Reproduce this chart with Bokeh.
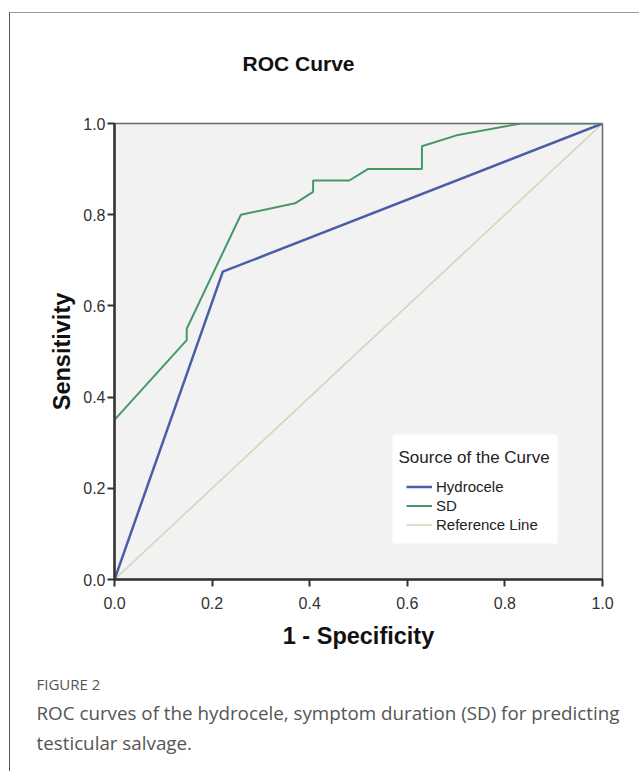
from bokeh.plotting import figure
from bokeh.models import (Range1d, FixedTicker, PrintfTickFormatter, Legend, LegendItem,
                          Label, BoxAnnotation, Title)
from bokeh.embed import file_html
from bokeh.resources import INLINE

# ---- data ----
hyd_fpr = [0.0, 0.222, 1.0]
hyd_tpr = [0.0, 0.675, 1.0]
sd_fpr = [0.0, 0.148, 0.148, 0.259, 0.370, 0.407, 0.407, 0.481, 0.519, 0.630, 0.630, 0.704, 0.833, 1.0]
sd_tpr = [0.35, 0.525, 0.55, 0.80, 0.825, 0.85, 0.875, 0.875, 0.90, 0.90, 0.95, 0.975, 1.0, 1.0]
ref_x = [0.0, 1.0]
ref_y = [0.0, 1.0]
ticks = [0.0, 0.2, 0.4, 0.6, 0.8, 1.0]
series_names = ["Hydrocele", "SD", "Reference Line"]
title_text = "ROC Curve"
x_label = "1 - Specificity"
y_label = "Sensitivity"
legend_title = "Source of the Curve"
fig_label = "FIGURE 2"
caption_lines = ["ROC curves of the hydrocele, symptom duration (SD) for predicting",
                 "testicular salvage."]

# ---- layout (page pixels) ----
OX, OY = 10, 13                      # canvas origin on the page
W, H = 630, 759
FL, FR, FT, FB = 114, 602, 123, 579   # frame edges on the page


def dx(px):
    return (px - FL) / (FR - FL)


def dy(py):
    return (FB - py) / (FB - FT)


def gap_title(gap):
    # a tiny white-on-white title panel that only reserves vertical space
    return Title(text=".", text_font_size="1px", text_color="white", standoff=gap)


p = figure(width=W, height=H, x_range=Range1d(0, 1), y_range=Range1d(0, 1),
           output_backend="svg", toolbar_location=None,
           min_border_left=FL - OX, min_border_right=W - (FR - OX),
           min_border_top=FT - OY, min_border_bottom=H - (FB - OY))
p.styles = {"border-left": "1.5px solid #555555", "border-top": "1.5px solid #9a9a9a",
            "margin-left": "9px", "margin-top": "12px"}
p.background_fill_color = "#f2f2f2"
p.border_fill_color = "white"
p.outline_line_color = "#6a6a6a"
p.outline_line_width = 1.5
p.xgrid.visible = False
p.ygrid.visible = False

xa = p.below[0]
ya = p.left[0]

for ax in (xa, ya):
    ax.ticker = FixedTicker(ticks=ticks)
    ax.formatter = PrintfTickFormatter(format="%.1f")
    ax.axis_line_width = 2.5
    ax.axis_line_color = "#333333"
    ax.major_tick_line_width = 2
    ax.major_tick_line_color = "#333333"
    ax.major_tick_out = 7
    ax.major_tick_in = 0
    ax.minor_tick_line_color = None
    ax.major_label_text_font = "Liberation Sans"
    ax.major_label_text_font_size = "16px"
    ax.major_label_text_color = "#333333"
    ax.axis_label_text_font = "Liberation Sans"
    ax.axis_label_text_font_size = "23.5px"
    ax.axis_label_text_font_style = "bold"
    ax.axis_label_text_color = "#111111"

xa.axis_label = x_label
ya.axis_label = y_label
xa.major_label_standoff = 10
ya.major_label_standoff = 2
xa.axis_label_standoff = 11
ya.axis_label_standoff = 5

# chart title (centred over the whole chart image), above a gap
p.title.text = ""
p.add_layout(gap_title(46), "above")
p.add_layout(Title(text=title_text, align="left", offset=297 - 55 - FL, standoff=0,
                   text_font="Liberation Sans", text_font_size="21px",
                   text_font_style="bold", text_color="#111111"), "above")

r_ref = p.line(ref_x, ref_y, line_color="#d9d2b4", line_width=1.5)
r_hyd = p.line(hyd_fpr, hyd_tpr, line_color="#4a5ea8", line_width=2.5)
r_sd = p.line(sd_fpr, sd_tpr, line_color="#469868", line_width=2)

# legend box
p.add_layout(BoxAnnotation(left=dx(392), right=dx(557), top=dy(434), bottom=dy(543),
                           fill_color="white", fill_alpha=1.0, line_color=None))
legend = Legend(items=[LegendItem(label=series_names[0], renderers=[r_hyd]),
                       LegendItem(label=series_names[1], renderers=[r_sd]),
                       LegendItem(label=series_names[2], renderers=[r_ref])],
                location=(398 - FL, FB - 541.5), padding=8, spacing=0,
                label_height=19, glyph_height=19, glyph_width=26, label_standoff=4,
                label_text_font="Liberation Sans", label_text_font_size="15px",
                label_text_color="#222222",
                border_line_alpha=0, background_fill_alpha=0)
p.add_layout(legend)
p.add_layout(Label(x=dx(398), y=dy(457), text=legend_title, text_baseline="middle",
                   text_font="Liberation Sans", text_font_size="17px", text_color="#222222"))

# gap between x axis and caption, then the caption
p.add_layout(gap_title(17), "below")
cap_specs = [(fig_label, "15px", 0), (caption_lines[0], "18.8px", 9), (caption_lines[1], "18.8px", -6)]
for txt, size, stand in cap_specs:
    p.add_layout(Title(text=txt, align="left", offset=36 - FL, standoff=stand,
                       text_font="Open Sans", text_font_size=size,
                       text_font_style="normal", text_color="#555555"), "below")

open("out.html", "w").write(file_html(p, INLINE))
